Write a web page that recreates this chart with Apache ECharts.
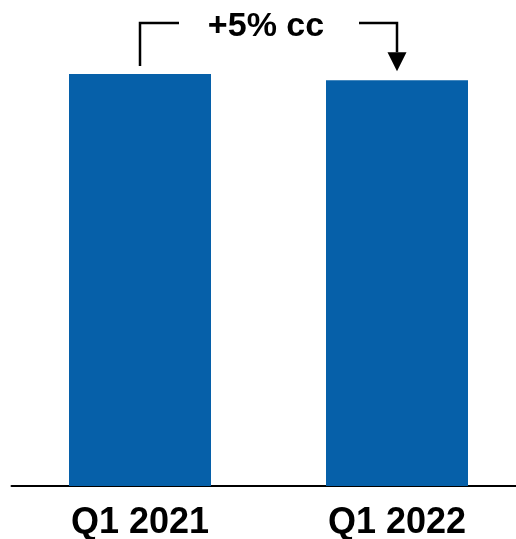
<!DOCTYPE html>
<html>
<head>
<meta charset="utf-8">
<script src="https://cdn.jsdelivr.net/npm/echarts@6/dist/echarts.min.js"></script>
<style>html,body{margin:0;padding:0;background:#fff;overflow:hidden;width:516px;height:539px}#c{width:526px;height:539px}</style>
</head>
<body>
<div id="c"></div>
<script>
const categories = ['Q1 2021', 'Q1 2022'];
const values = [100, 98.5];
const annotationText = '+5% cc';

const chart = echarts.init(document.getElementById('c'), null, {renderer: 'canvas'});
const option = {
  animation: false,
  grid: {left: 11.5, top: 32.8, right: 0.5, bottom: 53, containLabel: false, outerBoundsMode: 'none'},
  xAxis: {
    type: 'category', data: categories, boundaryGap: true,
    axisLine: {lineStyle: {color: '#000', width: 2}},
    axisTick: {show: false},
    axisLabel: {color: '#000', fontFamily: 'Liberation Sans, Arial', fontWeight: 'bold', fontSize: 36, margin: 19}
  },
  yAxis: {type: 'value', min: 0, max: 110, show: false, splitLine: {show: false}},
  series: [{type: 'bar', data: values, barWidth: 142, itemStyle: {color: '#0660A9'}}]
};
chart.setOption(option);

const p1 = chart.convertToPixel({seriesIndex: 0}, [0, values[0]]);
const p2 = chart.convertToPixel({seriesIndex: 0}, [1, values[1]]);
const topY = 23;
const midX = (p1[0] + 39 + p2[0] - 38) / 2 - 3;
const ls = {stroke: '#000', lineWidth: 2.5};
chart.setOption({
  graphic: [
    {type: 'polyline', shape: {points: [[p1[0], p1[1] - 8], [p1[0], topY], [p1[0] + 39, topY]]}, style: ls},
    {type: 'polyline', shape: {points: [[p2[0] - 38, topY], [p2[0], topY], [p2[0], p2[1] - 28]]}, style: ls},
    {type: 'polygon', shape: {points: [[p2[0] - 9.5, p2[1] - 28], [p2[0] + 9.5, p2[1] - 28], [p2[0], p2[1] - 9]]}, style: {fill: '#000'}},
    {type: 'text', x: midX, y: topY + 4, style: {text: annotationText, fill: '#000', font: 'bold 34px "Liberation Sans", Arial', textAlign: 'center', textVerticalAlign: 'middle'}}
  ]
});
</script>
</body>
</html>
